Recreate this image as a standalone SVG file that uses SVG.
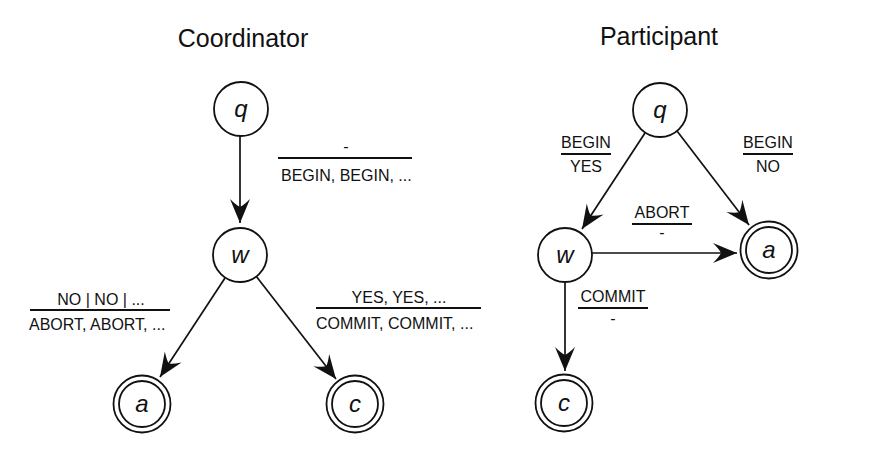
<svg xmlns="http://www.w3.org/2000/svg" width="880" height="475" viewBox="0 0 880 475">
<style>
.t{font-family:"Liberation Sans",Arial,sans-serif;fill:#111}
.title{font-size:25px}
.lbl{font-size:16px}
.n{font-size:24px;font-style:italic;text-anchor:middle}
.c{fill:#fff;stroke:#111;stroke-width:1.8}
.e{stroke:#111;stroke-width:1.7;fill:none;marker-end:url(#ah)}
.r{stroke:#111;stroke-width:1.8}
</style>
<defs>
<marker id="ah" markerWidth="26" markerHeight="22" refX="24" refY="10" orient="auto" markerUnits="userSpaceOnUse" overflow="visible">
<path d="M24,10 L0,0 Q6,6 8,10 Q6,14 0,20 z" fill="#111"/>
</marker>
</defs>
<rect width="880" height="475" fill="#fff"/>
<text class="t title" x="243" y="47" text-anchor="middle">Coordinator</text>
<text class="t title" x="659" y="45" text-anchor="middle">Participant</text>
<g id="connectors">
<line class="e" x1="240" y1="136" x2="240" y2="223"/>
<line class="e" x1="225" y1="278" x2="160" y2="377"/>
<line class="e" x1="256" y1="276" x2="336" y2="379"/>
<line class="e" x1="645" y1="133" x2="582" y2="229"/>
<line class="e" x1="677" y1="131" x2="749" y2="225"/>
<line class="e" x1="592" y1="253" x2="737" y2="253"/>
<line class="e" x1="565" y1="282" x2="565" y2="371"/>
</g>
<g id="labels">
<text class="t lbl" x="346" y="152" text-anchor="middle" font-size="12">-</text>
<line class="r" x1="278" y1="158" x2="412" y2="158"/>
<text class="t lbl" x="281" y="181">BEGIN, BEGIN, ...</text>
<text class="t lbl" x="101" y="305" text-anchor="middle">NO | NO | ...</text>
<line class="r" x1="30" y1="310" x2="170" y2="310"/>
<text class="t lbl" x="29" y="330">ABORT, ABORT, ...</text>
<text class="t lbl" x="399" y="303" text-anchor="middle">YES, YES, ...</text>
<line class="r" x1="316" y1="308" x2="481" y2="308"/>
<text class="t lbl" x="316" y="329">COMMIT, COMMIT, ...</text>
<text class="t lbl" x="586" y="148" text-anchor="middle">BEGIN</text>
<line class="r" x1="561" y1="154" x2="611" y2="154"/>
<text class="t lbl" x="586" y="172" text-anchor="middle">YES</text>
<text class="t lbl" x="768" y="148" text-anchor="middle">BEGIN</text>
<line class="r" x1="743" y1="154" x2="793" y2="154"/>
<text class="t lbl" x="768" y="172" text-anchor="middle">NO</text>
<text class="t lbl" x="662" y="218" text-anchor="middle">ABORT</text>
<line class="r" x1="632" y1="224" x2="692" y2="224"/>
<text class="t lbl" x="662" y="238" text-anchor="middle" font-size="12">-</text>
<text class="t lbl" x="613" y="302" text-anchor="middle">COMMIT</text>
<line class="r" x1="578" y1="308" x2="648" y2="308"/>
<text class="t lbl" x="613" y="324" text-anchor="middle" font-size="12">-</text>
</g>
<g id="c-q"><circle class="c" cx="241" cy="109" r="27"/><text class="t n" x="241" y="117">q</text></g>
<g id="c-w"><circle class="c" cx="240" cy="255" r="27"/><text class="t n" x="240" y="263">w</text></g>
<g id="c-a"><circle class="c" cx="142" cy="404" r="28.5"/><circle class="c" cx="142" cy="404" r="23"/><text class="t n" x="142" y="412">a</text></g>
<g id="c-c"><circle class="c" cx="355" cy="404" r="28.5"/><circle class="c" cx="355" cy="404" r="23"/><text class="t n" x="355" y="412">c</text></g>
<g id="p-q"><circle class="c" cx="660" cy="110" r="27"/><text class="t n" x="660" y="118">q</text></g>
<g id="p-w"><circle class="c" cx="565" cy="255" r="27"/><text class="t n" x="565" y="263">w</text></g>
<g id="p-a"><circle class="c" cx="769" cy="250" r="28.5"/><circle class="c" cx="769" cy="250" r="23"/><text class="t n" x="769" y="258">a</text></g>
<g id="p-c"><circle class="c" cx="564" cy="403" r="28.5"/><circle class="c" cx="564" cy="403" r="23"/><text class="t n" x="564" y="411">c</text></g>
</svg>
